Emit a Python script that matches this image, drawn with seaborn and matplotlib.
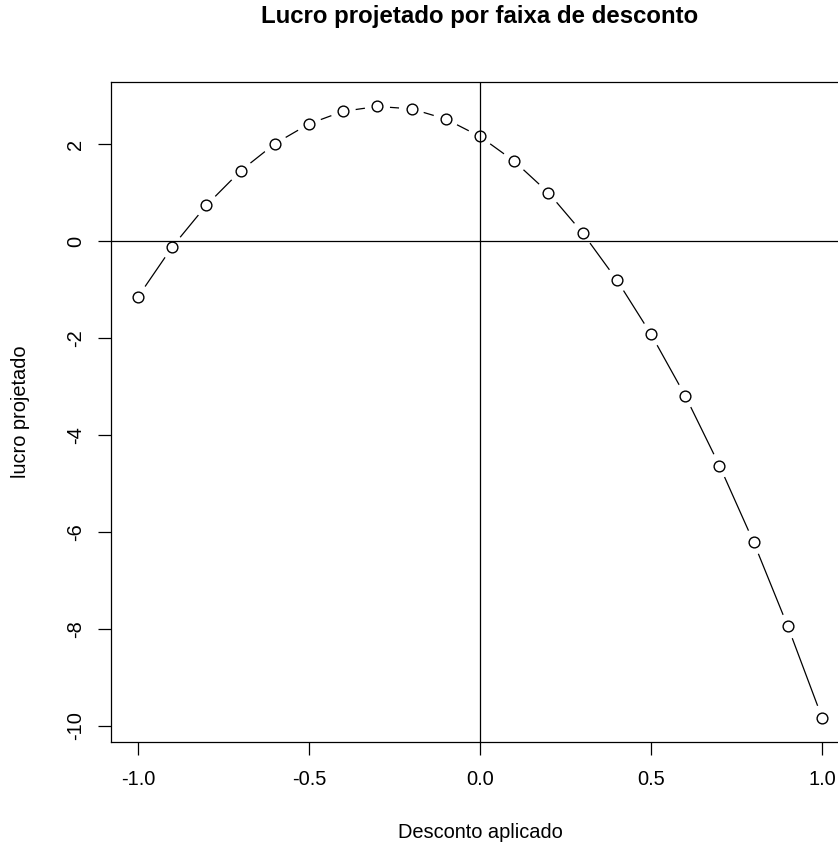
import matplotlib
matplotlib.use("Agg")
import matplotlib.pyplot as plt
import seaborn as sns
import numpy as np
import pandas as pd

# ---- data ----
desconto = [-1.0, -0.9, -0.8, -0.7, -0.6, -0.5, -0.4, -0.3, -0.2, -0.1, 0.0,
            0.1, 0.2, 0.3, 0.4, 0.5, 0.6, 0.7, 0.8, 0.9, 1.0]
lucro = [-1.15, -0.12, 0.74, 1.45, 2.01, 2.42, 2.68, 2.78, 2.73, 2.52, 2.16,
         1.65, 1.00, 0.17, -0.80, -1.92, -3.19, -4.63, -6.21, -7.95, -9.83]
xticks = [-1.0, -0.5, 0.0, 0.5, 1.0]
xtick_labels = ["-1.0", "-0.5", "0.0", "0.5", "1.0"]
yticks = [-10, -8, -6, -4, -2, 0, 2]
ytick_labels = ["-10", "-8", "-6", "-4", "-2", "0", "2"]
titulo = "Lucro projetado por faixa de desconto"
xlab = "Desconto aplicado"
ylab = "lucro projetado"

df = pd.DataFrame({"desconto": desconto, "lucro": lucro})

sns.set_theme(style="white")
plt.rcParams["font.family"] = ["Liberation Sans", "DejaVu Sans"]

W, H = 838, 843
fig = plt.figure(figsize=(W / 100, H / 100), dpi=100)
left, right, top, bottom = 110.6, 849.4, 82, 742
ax = fig.add_axes([left / W, 1 - bottom / H, (right - left) / W, (bottom - top) / H])

# curve (type = "b")
sns.lineplot(data=df, x="desconto", y="lucro", ax=ax, color="black",
             linewidth=0.9, zorder=1, legend=False)
sns.scatterplot(data=df, x="desconto", y="lucro", ax=ax, s=330, color="white",
                edgecolor="none", linewidth=0, zorder=2, legend=False)
sns.scatterplot(data=df, x="desconto", y="lucro", ax=ax, s=60, facecolor="white",
                edgecolor="black", linewidth=1.0, zorder=3, legend=False)

ax.axhline(0, color="black", linewidth=0.9, zorder=4)
ax.axvline(0, color="black", linewidth=0.9, zorder=4)

# R-style 4% expansion
xr = max(desconto) - min(desconto)
yr = max(lucro) - min(lucro)
ax.set_xlim(min(desconto) - 0.04 * xr, max(desconto) + 0.04 * xr)
ax.set_ylim(min(lucro) - 0.04 * yr, max(lucro) + 0.04 * yr)

ax.set_xticks(xticks)
ax.set_xticklabels(xtick_labels)
ax.set_yticks(yticks)
ax.set_yticklabels(ytick_labels, rotation=90, va="center")

fs = 14.4
ax.tick_params(axis="both", direction="out", length=9.5, width=0.9,
               color="black", labelsize=fs, labelcolor="black",
               bottom=True, left=True)
ax.tick_params(axis="x", pad=11)
ax.tick_params(axis="y", pad=9)

for s in ax.spines.values():
    s.set_visible(True)
    s.set_color("black")
    s.set_linewidth(0.9)

ax.set_xlabel(xlab, fontsize=fs, color="black", va="center")
ax.set_ylabel(ylab, fontsize=fs, color="black", va="center")
ax.xaxis.set_label_coords(0.5, (bottom - 832) / (bottom - top))
ax.yaxis.set_label_coords((20 - left) / (right - left), 0.5)

fig.text(480 / W, 1 - 17 / H, titulo, ha="center", va="center",
         fontsize=17.3, fontweight="bold", color="black")

fig.savefig("out.png", dpi=100)
